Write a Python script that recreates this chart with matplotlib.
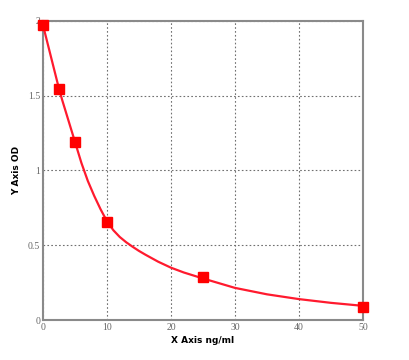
import matplotlib
matplotlib.use("Agg")
import matplotlib.pyplot as plt

# standard points
conc = [0, 2.5, 5, 10, 25, 50]
od = [1.97, 1.545, 1.19, 0.655, 0.285, 0.088]

# fitted curve
curve_x = [0, 1, 2, 2.5, 3, 4, 5, 6, 7, 8, 9, 10, 11, 12, 13, 14, 15, 16, 18,
           20, 22, 25, 30, 35, 40, 45, 50]
curve_y = [1.97, 1.80, 1.63, 1.545, 1.47, 1.33, 1.19, 1.05, 0.93, 0.83, 0.74, 0.66,
           0.60, 0.555, 0.52, 0.49, 0.462, 0.437, 0.39, 0.35, 0.318, 0.278, 0.215,
           0.172, 0.14, 0.115, 0.095]

xticks = [0, 10, 20, 30, 40, 50]
yticks = [0, 0.5, 1, 1.5, 2]
ytick_labels = ["0", "0.5", "1", "1.5", "2"]

fig = plt.figure(figsize=(4.1, 3.6), dpi=100)
ax = fig.add_axes([0.105, 0.111, 0.78, 0.831])

ax.plot(curve_x, curve_y, color="#ff1a2e", lw=1.6, zorder=3)
ax.plot(conc, od, "s", color="#ff0000", ms=6.5, zorder=4, clip_on=False)

ax.set_xlim(0, 50)
ax.set_ylim(0, 2)
ax.set_xticks(xticks)
ax.set_yticks(yticks)
ax.set_yticklabels(ytick_labels)
ax.grid(True, color="#707070", ls=(0, (1.5, 2)), lw=0.8)
ax.set_axisbelow(True)

for s in ax.spines.values():
    s.set_color("#8a8a8a")
    s.set_linewidth(1.5)

ax.tick_params(length=0, labelsize=7, labelcolor="#666666", pad=2,
               labelfontfamily="Liberation Serif")
ax.set_xlabel("X Axis ng/ml", fontsize=6.5, fontweight="bold", labelpad=3)
ax.set_ylabel("Y Axis OD", fontsize=6.5, fontweight="bold", labelpad=5)

fig.savefig("out.png", dpi=100)
